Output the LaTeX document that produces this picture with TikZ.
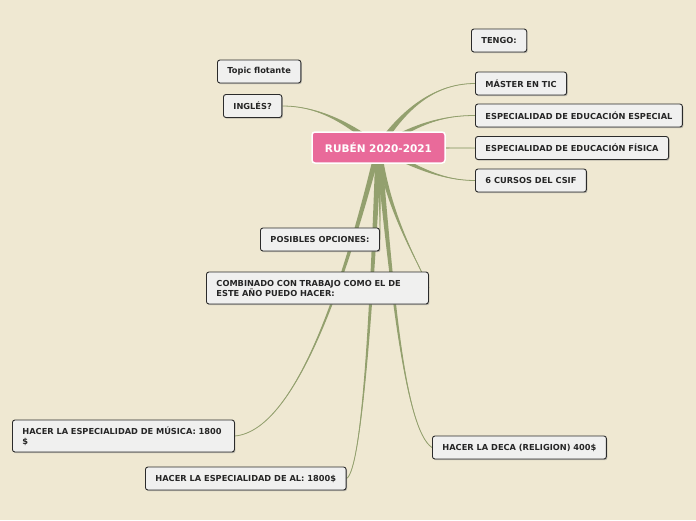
\documentclass[tikz,border=0pt]{standalone}
\usepackage{fontspec}
\setmainfont{DejaVu Sans}
\usetikzlibrary{calc,shadows}
\definecolor{bgc}{HTML}{EFE8D2}
\definecolor{brc}{HTML}{93A06E}
\definecolor{pinkc}{HTML}{E96A9A}
\definecolor{boxc}{HTML}{F0F0EF}
\definecolor{edgec}{HTML}{2B2B2B}
\pgfdeclarelayer{bglayer}
\pgfdeclarelayer{brlayer}
\pgfsetlayers{bglayer,brlayer,main}
\newcommand\branchcurve[6]{%
  \fill[brc] ($(#1)+(#5,#6)$) .. controls ($(#2)+0.5*(#5,#6)$) and (#3) .. (#4) .. controls (#3) and ($(#2)-0.5*(#5,#6)$) .. ($(#1)-(#5,#6)$) -- cycle;
  \draw[brc,line width=0.8pt] (#1) .. controls (#2) and (#3) .. (#4);}
\tikzset{
  topic/.style={draw=edgec, line width=0.9pt, fill=boxc, rounded corners=2.5pt,
    inner xsep=10pt, inner ysep=0pt, minimum height=23pt, anchor=west, text=black!85,
    drop shadow={shadow xshift=1pt, shadow yshift=-1.2pt, opacity=0.45}},
  twoline/.style={text width=202pt, align=left, minimum height=32pt},
  central/.style={draw=white, line width=1.5pt, fill=pinkc, rounded corners=3pt,
    minimum width=133pt, minimum height=31pt, text=white,
    font=\fontsize{10.5}{12}\selectfont\bfseries}
}
\begin{document}
\begin{tikzpicture}[x=1pt,y=-1pt,font=\fontsize{8.25}{10}\selectfont\bfseries]
\begin{pgfonlayer}{bglayer}
\fill[bgc] (0,0) rectangle (696,520);
\end{pgfonlayer}
\useasboundingbox (0,0) rectangle (696,520);

\node[central] (c) at (378.5,147.5) {RUBÉN 2020-2021};
\node[topic] (tengo) at (471,40.5) {TENGO:};
\node[topic] (topic) at (217,71.5) {Topic flotante};
\node[topic] (ingles) at (223,106) {INGLÉS?};
\node[topic] (master) at (475,83.5) {MÁSTER EN TIC};
\node[topic] (especial) at (475,115.5) {ESPECIALIDAD DE EDUCACIÓN ESPECIAL};
\node[topic] (fisica) at (475,148) {ESPECIALIDAD DE EDUCACIÓN FÍSICA};
\node[topic] (csif) at (475,180.5) {6 CURSOS DEL CSIF};
\node[topic] (posibles) at (260,239.5) {POSIBLES OPCIONES:};
\node[topic,twoline] (comb) at (206,288) {COMBINADO CON TRABAJO COMO EL DE\\ESTE AÑO PUEDO HACER:};
\node[topic,twoline] (musica) at (12,436) {HACER LA ESPECIALIDAD DE MÚSICA: 1800\\\$};
\node[topic] (al) at (145,478.5) {HACER LA ESPECIALIDAD DE AL: 1800\$};
\node[topic] (deca) at (432,447.5) {HACER LA DECA (RELIGION) 400\$};

\begin{pgfonlayer}{brlayer}
\coordinate (s) at (c.center);
\branchcurve{s}{345,120}{315,106}{ingles.east}{2.5}{-2.5}
\branchcurve{s}{400,115}{430,83.5}{master.west}{2.5}{2.5}
\branchcurve{s}{415,125}{440,115.5}{especial.west}{1}{3}
\branchcurve{s}{420,148}{440,148}{fisica.west}{0}{2.5}
\branchcurve{s}{420,170}{445,180.5}{csif.west}{-1}{3}
\branchcurve{s}{380,190}{380,225}{posibles.east}{2.5}{0}
\branchcurve{s}{388,215}{420,265}{comb.east}{3}{0}
\branchcurve{s}{350,260}{300,430}{musica.east}{3}{0}
\branchcurve{s}{372,300}{362,470}{al.east}{3}{0}
\branchcurve{s}{392,290}{405,430}{deca.west}{3}{0}
\end{pgfonlayer}
\end{tikzpicture}
\end{document}
